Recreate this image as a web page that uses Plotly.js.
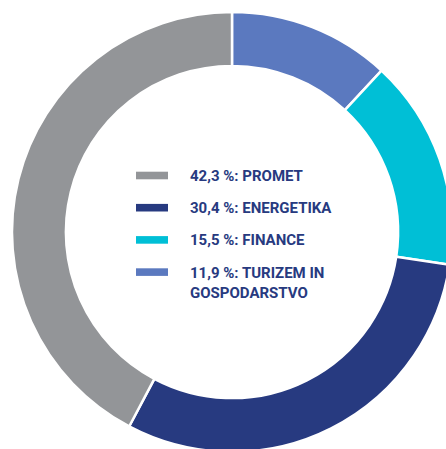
<!DOCTYPE html>
<html>
<head>
<meta charset="utf-8">
<script src="https://cdn.plot.ly/plotly-3.0.1.min.js"></script>
<style>
html,body{margin:0;padding:0;overflow:hidden;background:#fff;width:446px;height:449px;}
#chart{position:absolute;left:0;top:0;}
</style>
</head>
<body>
<div id="chart"></div>
<script>
// Data (legend order)
const categories = ['PROMET', 'ENERGETIKA', 'FINANCE', 'TURIZEM IN<br>GOSPODARSTVO'];
const shares = [42.3, 30.4, 15.5, 11.9];
const valueLabels = ['42,3 %', '30,4 %', '15,5 %', '11,9 %'];
const colors = ['#939598', '#273a80', '#00bfd6', '#5b79bf'];

// Canvas geometry (pixels)
const W = 470, H = 470;
const cx = 232, cy = 232, R = 220;
const textColor = '#273a80';

// pie drawn from TURIZEM clockwise from 12 o'clock
const pieLabels = categories.slice().reverse();
const pieValues = shares.slice().reverse();
const pieColors = colors.slice().reverse();

const px = x => x / W;
const py = y => (H - y) / H;

const shapes = [];
const annotations = [];
categories.forEach((c, i) => {
  const yc = 175.5 + i * 32.2;
  shapes.push({
    type: 'rect', xref: 'paper', yref: 'paper',
    x0: px(136), x1: px(168), y0: py(yc - 3.8), y1: py(yc + 3.8),
    fillcolor: colors[i], line: {width: 0}
  });
  annotations.push({
    xref: 'paper', yref: 'paper', x: px(188), y: py(yc - 10.5),
    xanchor: 'left', yanchor: 'top', align: 'left', showarrow: false,
    text: '<b>' + valueLabels[i] + ': ' + c + '</b>',
    font: {family: 'Roboto, sans-serif', size: 15, color: textColor}
  });
});

const data = [{
  type: 'pie',
  labels: pieLabels,
  values: pieValues,
  sort: false,
  direction: 'clockwise',
  rotation: 0,
  hole: 0.755,
  textinfo: 'none',
  marker: {colors: pieColors, line: {color: '#ffffff', width: 2.5}},
  domain: {x: [px(cx - R), px(cx + R)], y: [py(cy + R), py(cy - R)]},
  showlegend: false,
  hoverinfo: 'label+percent'
}];

const layout = {
  width: W, height: H,
  margin: {l: 0, r: 0, t: 0, b: 0},
  paper_bgcolor: '#ffffff',
  showlegend: false,
  shapes: shapes,
  annotations: annotations
};

Plotly.newPlot('chart', data, layout, {displayModeBar: false, staticPlot: true});
</script>
</body>
</html>
